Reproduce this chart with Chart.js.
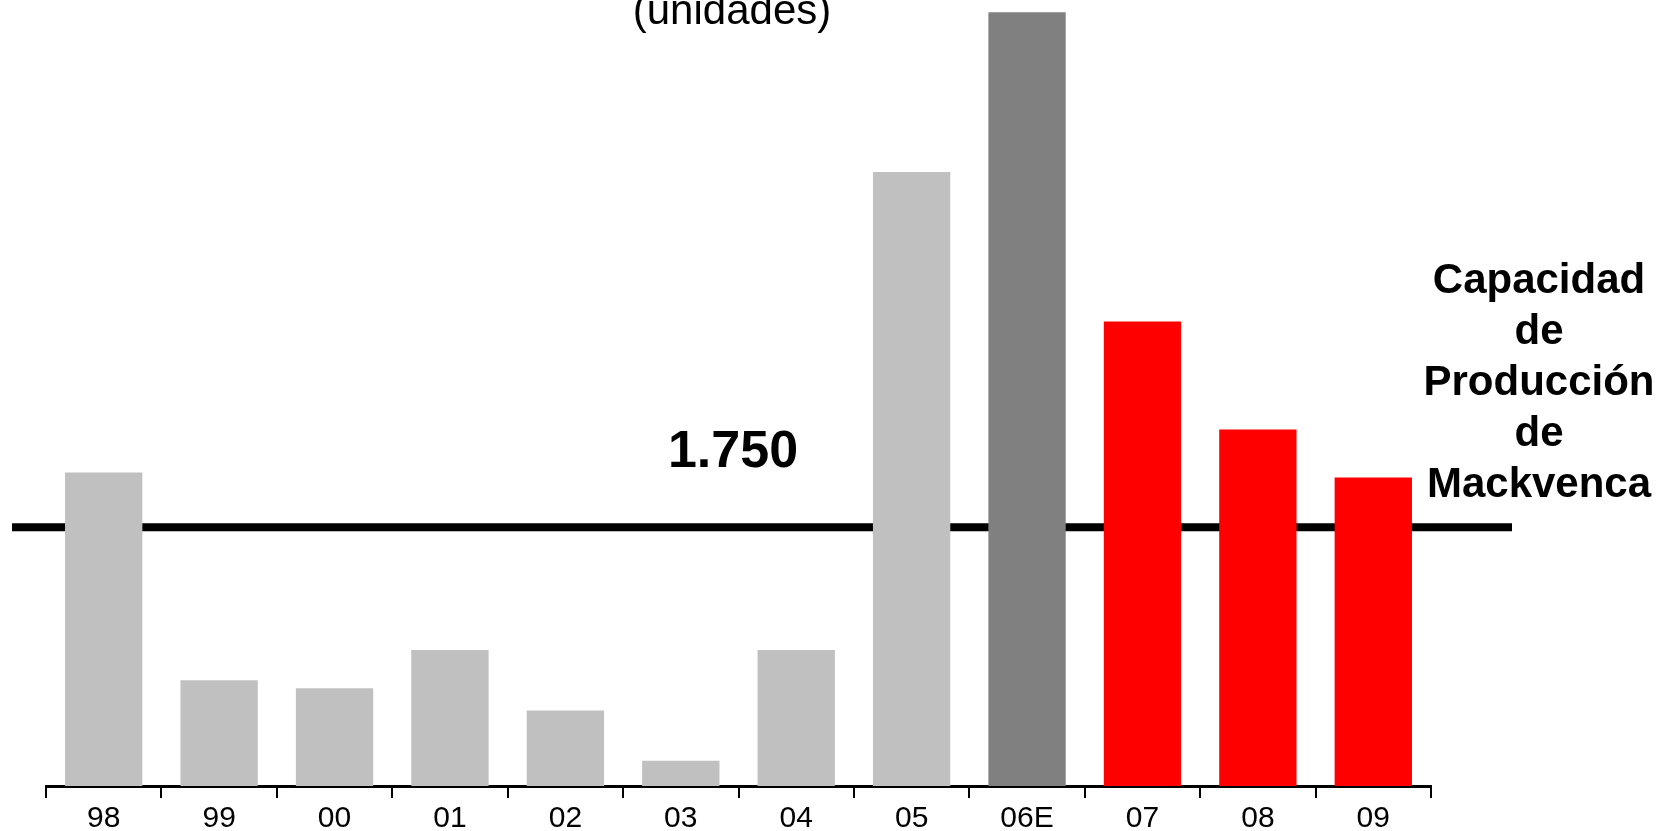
<!DOCTYPE html>
<html>
<head>
<meta charset="utf-8">
<script src="https://cdn.jsdelivr.net/npm/chart.js@4"></script>
<style>
  html, body { margin: 0; padding: 0; background: #fff; }
  #wrap { width: 1671px; height: 831px; }
</style>
</head>
<body>
<div id="wrap"><canvas id="ventasChart"></canvas></div>
<script>
// años y ventas (unidades)
var years = ['98', '99', '00', '01', '02', '03', '04', '05', '06E', '07', '08', '09'];
var units = [2120, 715, 660, 920, 510, 170, 920, 4150, 5230, 3140, 2410, 2085];
var barColors = ['#c0c0c0', '#c0c0c0', '#c0c0c0', '#c0c0c0', '#c0c0c0', '#c0c0c0', '#c0c0c0', '#c0c0c0', '#808080', '#ff0000', '#ff0000', '#ff0000'];
var capacidad = 1750;
var capacidadLabel = '1.750';
var capacidadTexto = ['Capacidad', 'de', 'Producción', 'de', 'Mackvenca'];
var subtitulo = '(unidades)';

// linea de capacidad (detras de las barras) + textos
var capacidadPlugin = {
    id: 'capacidad',
    beforeDatasetsDraw: function (chart) {
        var ctx = chart.ctx;
        var y = chart.scales.y.getPixelForValue(capacidad);
        ctx.save();
        ctx.strokeStyle = '#000';
        ctx.lineWidth = 8;
        ctx.beginPath();
        ctx.moveTo(12, y);
        ctx.lineTo(1512, y);
        ctx.stroke();
        ctx.restore();
    },
    afterDraw: function (chart) {
        var ctx = chart.ctx;
        var y = chart.scales.y.getPixelForValue(capacidad);
        ctx.save();
        ctx.fillStyle = '#000';
        ctx.textAlign = 'center';

        ctx.font = 'bold 52px "Liberation Sans", Arial, sans-serif';
        ctx.textBaseline = 'middle';
        ctx.fillText(capacidadLabel, 733, y - 74);

        ctx.font = '42px "Liberation Sans", Arial, sans-serif';
        ctx.textBaseline = 'alphabetic';
        ctx.fillText(subtitulo, 732, 24);

        ctx.font = 'bold 42px "Liberation Sans", Arial, sans-serif';
        capacidadTexto.forEach(function (t, i) {
            ctx.fillText(t, 1539, 293 + i * 51);
        });
        ctx.restore();
    }
};

var ctx = document.getElementById('ventasChart').getContext('2d');
var ventasChart = new Chart(ctx, {
    type: 'bar',
    plugins: [capacidadPlugin],
    data: {
        labels: years,
        datasets: [{
            data: units,
            backgroundColor: barColors,
            borderWidth: 0,
            categoryPercentage: 1,
            barPercentage: 0.67
        }]
    },
    options: {
        responsive: true,
        maintainAspectRatio: false,
        animation: false,
        layout: {
            padding: { left: 46, right: 240, top: 2, bottom: 0 }
        },
        plugins: {
            legend: { display: false },
            tooltip: { enabled: false }
        },
        scales: {
            x: {
                afterFit: function (scale) { scale.height = 45; },
                border: { display: true, color: '#000', width: 3 },
                grid: {
                    offset: true,
                    drawOnChartArea: false,
                    drawTicks: true,
                    tickLength: 12,
                    color: '#000',
                    lineWidth: 2
                },
                ticks: {
                    color: '#000',
                    padding: 3,
                    font: { family: '"Liberation Sans", Arial, sans-serif', size: 30 }
                }
            },
            y: {
                display: false,
                min: 0,
                max: 5300
            }
        }
    }
});
</script>
</body>
</html>
